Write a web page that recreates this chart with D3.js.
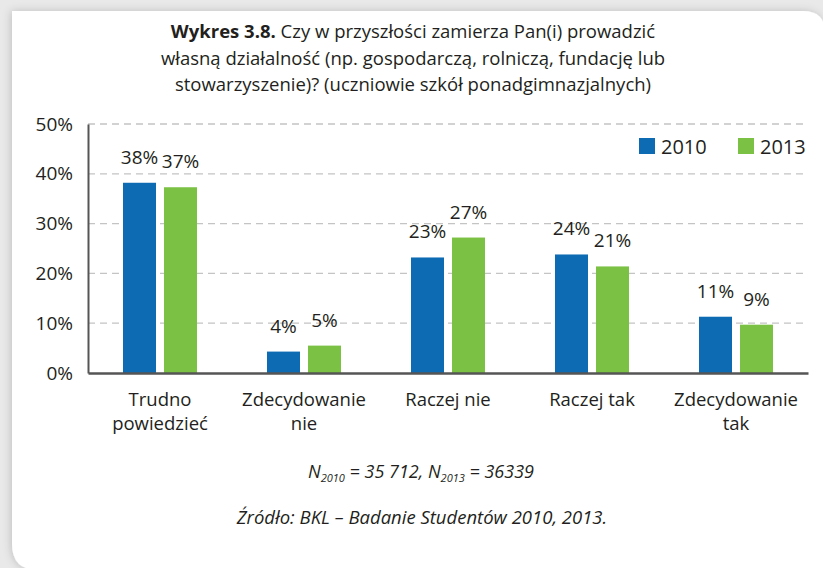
<!DOCTYPE html>
<html>
<head>
<meta charset="utf-8">
<script src="https://cdn.jsdelivr.net/npm/d3@7"></script>
<style>
  body { margin: 0; background: #e9e9e9; }
  svg { display: block; font-family: "Open Sans", sans-serif; }
</style>
</head>
<body>
<script>
// categories and series values (percent)
const categories = [["Trudno", "powiedzieć"], ["Zdecydowanie", "nie"], ["Raczej nie"], ["Raczej tak"], ["Zdecydowanie", "tak"]];
const series = ["2010", "2013"];
const values2010 = [38.2, 4.3, 23.2, 23.8, 11.3];
const values2013 = [37.3, 5.5, 27.2, 21.4, 9.7];
const labels2010 = ["38%", "4%", "23%", "24%", "11%"];
const labels2013 = ["37%", "5%", "27%", "21%", "9%"];
const yTicks = [0, 10, 20, 30, 40, 50];
const colors = ["#0d6bb4", "#7bc143"];

const W = 823, H = 568;
const margin = {top: 124, left: 88, right: 15, bottom: 195};
const textColor = "#231f20";

let svg = d3.select("body").append("svg")
    .attr("width", W)
    .attr("height", H);

// card with shadow
let defs = svg.append("defs");
defs.append("filter").attr("id", "shadow")
    .attr("x", "-10%").attr("y", "-10%").attr("width", "120%").attr("height", "120%")
    .append("feDropShadow")
    .attr("dx", -1).attr("dy", 0).attr("stdDeviation", 4)
    .attr("flood-color", "#000").attr("flood-opacity", 0.18);

let cx0 = 12, cy0 = 11, r1 = 22, r2 = 26;
svg.append("path")
    .attr("d", `M${cx0},${cy0} H${W + 2 - r1} Q${W + 2},${cy0} ${W + 2},${cy0 + r1} V${H + 2} H${cx0 + r2} Q${cx0},${H + 2} ${cx0},${H + 2 - r2} Z`)
    .attr("fill", "#fff")
    .attr("filter", "url(#shadow)");

// title
let title = svg.append("text")
    .attr("text-anchor", "middle")
    .attr("fill", textColor)
    .style("font-size", "18.5px");
let t1 = title.append("tspan").attr("x", 413).attr("y", 38);
t1.append("tspan").style("font-weight", "bold").text("Wykres 3.8.");
t1.append("tspan").text(" Czy w przyszłości zamierza Pan(i) prowadzić");
title.append("tspan").attr("x", 413).attr("y", 64.5).text("własną działalność (np. gospodarczą, rolniczą, fundację lub");
title.append("tspan").attr("x", 413).attr("y", 91).text("stowarzyszenie)? (uczniowie szkół ponadgimnazjalnych)");

let width = W - margin.left - margin.right;
let height = H - margin.top - margin.bottom;

let g = svg.append("g")
    .attr("transform", "translate(" + margin.left + "," + margin.top + ")");

// scales
let x0 = d3.scaleBand().domain(d3.range(categories.length)).range([0, width]);
let groupW = 74;
let x1 = d3.scaleBand().domain(series)
    .range([(x0.bandwidth() - groupW) / 2, (x0.bandwidth() + groupW) / 2])
    .paddingInner(8 / 41);
let y = d3.scaleLinear().domain([0, 50]).range([height, 0]);

// gridlines
g.append("g")
    .selectAll("line")
    .data(yTicks.filter(d => d > 0))
    .enter().append("line")
    .attr("x1", 0).attr("x2", width)
    .attr("y1", d => y(d)).attr("y2", d => y(d))
    .attr("stroke", "#c4c4c4")
    .attr("stroke-width", 1.3)
    .attr("stroke-dasharray", "7,5");

// y axis
let yAxis = g.append("g")
    .call(d3.axisLeft(y).tickValues(yTicks).tickSize(0).tickPadding(15).tickFormat(d => d + "%"));
yAxis.select(".domain").attr("stroke", "#555").attr("stroke-width", 2);
yAxis.selectAll("text")
    .attr("fill", textColor)
    .style("font-size", "19px")
    .style("font-family", "Open Sans, sans-serif");

// bars
let data = [values2010, values2013];
let labels = [labels2010, labels2013];
let groups = g.selectAll(".grp")
    .data(categories.map((c, i) => i))
    .enter().append("g")
    .attr("class", "grp")
    .attr("transform", i => "translate(" + x0(i) + ",0)");

groups.selectAll("rect")
    .data(i => series.map((s, k) => ({s: s, k: k, v: data[k][i]})))
    .enter().append("rect")
    .attr("x", d => x1(d.s))
    .attr("width", x1.bandwidth())
    .attr("y", d => y(d.v))
    .attr("height", d => height - y(d.v))
    .attr("fill", d => colors[d.k]);

groups.selectAll(".lbl")
    .data(i => series.map((s, k) => ({s: s, k: k, v: data[k][i], t: labels[k][i]})))
    .enter().append("text")
    .attr("class", "lbl")
    .attr("x", d => x1(d.s) + x1.bandwidth() / 2)
    .attr("y", d => y(d.v) - 19)
    .attr("text-anchor", "middle")
    .attr("fill", textColor)
    .style("font-size", "19px")
    .text(d => d.t);

// x axis
let xAxis = g.append("g")
    .attr("transform", "translate(0," + height + ")")
    .call(d3.axisBottom(x0).tickSize(0).tickFormat(""));
xAxis.select(".domain").attr("stroke", "#555").attr("stroke-width", 2.5);

// category labels, one text per line
xAxis.selectAll(".tick").each(function(i) {
    let t = d3.select(this);
    categories[i].forEach((line, j) => {
        t.append("text")
            .attr("x", 0).attr("y", 33 + j * 24)
            .attr("text-anchor", "middle")
            .attr("fill", textColor)
            .style("font-size", "18.5px")
            .style("font-family", "Open Sans, sans-serif")
            .text(line);
    });
});

// legend
let legend = svg.append("g");
let legendX = [639, 738];
series.forEach((s, k) => {
    legend.append("rect")
        .attr("x", legendX[k]).attr("y", 138)
        .attr("width", 16).attr("height", 16)
        .attr("fill", colors[k]);
    legend.append("text")
        .attr("x", legendX[k] + 22).attr("y", 154)
        .attr("fill", textColor)
        .style("font-size", "20px")
        .text(s);
});

// footnotes
let n = svg.append("text")
    .attr("x", 421).attr("y", 478)
    .attr("text-anchor", "middle")
    .attr("fill", textColor)
    .style("font-size", "18px")
    .style("font-style", "italic");
n.append("tspan").text("N");
n.append("tspan").attr("dy", 4).style("font-size", "11px").text("2010");
n.append("tspan").attr("dy", -4).text(" = 35 712, N");
n.append("tspan").attr("dy", 4).style("font-size", "11px").text("2013");
n.append("tspan").attr("dy", -4).text(" = 36339");

svg.append("text")
    .attr("x", 422).attr("y", 524)
    .attr("text-anchor", "middle")
    .attr("fill", textColor)
    .style("font-size", "18.5px")
    .style("font-style", "italic")
    .text("Źródło: BKL – Badanie Studentów 2010, 2013.");
</script>
</body>
</html>
